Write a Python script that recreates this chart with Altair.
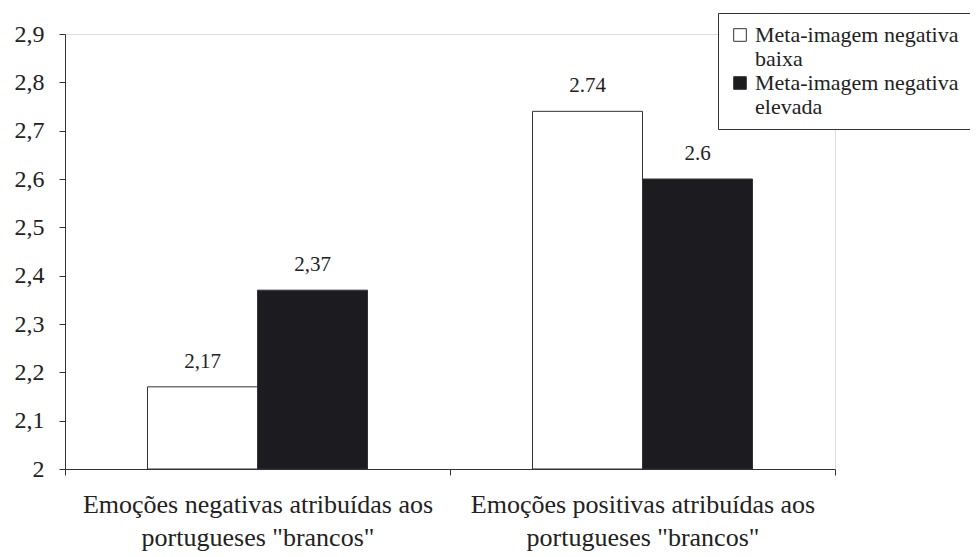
import altair as alt
import pandas as pd

categories = [
    "Emoções negativas atribuídas aos|portugueses \"brancos\"",
    "Emoções positivas atribuídas aos|portugueses \"brancos\"",
]
groups = ["Meta-imagem negativa|baixa", "Meta-imagem negativa|elevada"]
values_baixa = [2.17, 2.74]
values_elevada = [2.37, 2.6]
labels_baixa = ["2,17", "2.74"]
labels_elevada = ["2,37", "2.6"]
y_ticks = [2.0, 2.1, 2.2, 2.3, 2.4, 2.5, 2.6, 2.7, 2.8, 2.9]

rows = []
for i, c in enumerate(categories):
    rows.append({"cat": c, "grp": groups[0], "val": values_baixa[i], "lab": labels_baixa[i]})
    rows.append({"cat": c, "grp": groups[1], "val": values_elevada[i], "lab": labels_elevada[i]})
df = pd.DataFrame(rows)

FONT = "Liberation Serif"

x_enc = alt.X(
    "cat:N",
    sort=categories,
    scale=alt.Scale(paddingInner=0, paddingOuter=0),
    axis=alt.Axis(
        title=None,
        labelAngle=0,
        labelExpr="split(datum.label, '|')",
        labelFont=FONT,
        labelFontSize=26,
        labelColor="#222",
        labelLineHeight=33,
        labelPadding=16,
        labelLimit=500,
        tickBand="extent",
        tickSize=6,
        tickColor="#333",
        domainColor="#333",
        grid=False,
    ),
)
xoff_enc = alt.XOffset(
    "grp:N", sort=groups, scale=alt.Scale(paddingInner=0, paddingOuter=0.75)
)

bars = alt.Chart(df).mark_bar(stroke="#333", strokeWidth=1).encode(
    x=x_enc,
    xOffset=xoff_enc,
    y=alt.Y(
        "val:Q",
        scale=alt.Scale(domain=[2, 2.9], zero=False, nice=False),
        axis=alt.Axis(
            title=None,
            values=y_ticks,
            labelExpr="datum.value == 2 ? '2' : replace(format(datum.value, '.1f'), '.', ',')",
            labelFont=FONT,
            labelFontSize=24,
            labelColor="#222",
            labelPadding=15,
            tickSize=6,
            tickColor="#333",
            domainColor="#333",
            grid=False,
        ),
    ),
    y2=alt.datum(2),
    color=alt.Color(
        "grp:N",
        scale=alt.Scale(domain=groups, range=["#ffffff", "#1c1c20"]),
        legend=alt.Legend(
            title=None,
            orient="none",
            legendX=653,
            legendY=-21,
            labelExpr="split(datum.label, '|')",
            labelFont=FONT,
            labelFontSize=22,
            labelColor="#222",
            labelLimit=400,
            labelOffset=4,
            symbolType="square",
            symbolSize=160,
            symbolStrokeColor="#333",
            symbolStrokeWidth=1,
            symbolOpacity=1,
            strokeColor="#333",
            padding=11,
            rowPadding=2,
            fillColor="white",
        ),
    ),
)

texts = alt.Chart(df).mark_text(
    font=FONT, fontSize=21, color="#222", baseline="bottom", dy=-15
).encode(
    x=alt.X("cat:N", sort=categories),
    xOffset=alt.XOffset("grp:N", sort=groups),
    y=alt.Y("val:Q"),
    text="lab:N",
)

chart = (
    alt.layer(bars, texts)
    .properties(
        width=770,
        height=435,
        autosize=alt.AutoSizeParams(type="none"),
        padding={"left": 57, "top": 26, "right": 135, "bottom": 88},
    )
    .configure_view(stroke="#888", strokeDash=[1, 1], strokeWidth=1)
    .configure(background="white")
)

chart.save("out.html", embed_options={"renderer": "svg", "actions": False})
